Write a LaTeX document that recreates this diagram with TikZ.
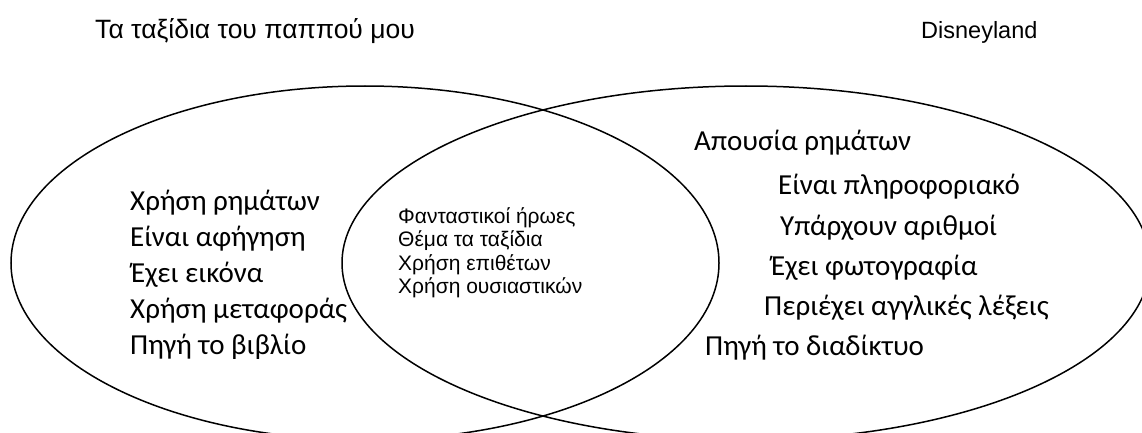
\documentclass[tikz,border=0pt]{standalone}
\usepackage{fontspec}
\setmainfont{Liberation Sans}
\newfontfamily\calfont{Carlito}
\newfontfamily\arifont{Liberation Sans}
\begin{document}
\begin{tikzpicture}[x=1pt,y=-1pt,
  venn/.style={draw=black,line width=1.5pt},
  titletext/.style={anchor=base west,inner sep=0pt,font=\arifont\fontsize{24}{28}\selectfont},
  sidetext/.style={anchor=base west,inner sep=0pt,font=\calfont\fontsize{29}{34}\selectfont},
  midtext/.style={anchor=base west,inner sep=0pt,font=\arifont\fontsize{21}{23}\selectfont}]
\useasboundingbox (0,0) rectangle (1142,433);
\fill[white] (0,0) rectangle (1142,433);
\begin{scope}
\clip (0,0) rectangle (1142,433);
\draw[venn] (365,263) ellipse [x radius=354, y radius=177];
\draw[venn] (746,263) ellipse [x radius=404, y radius=177];
\end{scope}
\node[titletext,font=\arifont\fontsize{26.5}{30}\selectfont] (t1) at (95,39) {Τα ταξίδια του παππού μου};
\node[titletext,font=\arifont\fontsize{23.5}{28}\selectfont] (t2) at (921,39) {Disneyland};
\node[sidetext] (l1) at (130,210) {Χρήση ρημάτων};
\node[sidetext] (l2) at (130,246) {Είναι αφήγηση};
\node[sidetext] (l3) at (131,282) {Έχει εικόνα};
\node[sidetext] (l4) at (130,318) {Χρήση μεταφοράς};
\node[sidetext] (l5) at (130,354) {Πηγή το βιβλίο};
\node[midtext] (m1) at (398,223) {Φανταστικοί ήρωες};
\node[midtext] (m2) at (398,246.5) {Θέμα τα ταξίδια};
\node[midtext] (m3) at (398,270) {Χρήση επιθέτων};
\node[midtext] (m4) at (398,293) {Χρήση ουσιαστικών};
\node[sidetext] (r1) at (694,150) {Απουσία ρημάτων};
\node[sidetext] (r2) at (778,194) {Είναι πληροφοριακό};
\node[sidetext] (r3) at (780,235) {Υπάρχουν αριθμοί};
\node[sidetext] (r4) at (771,275) {Έχει φωτογραφία};
\node[sidetext] (r5) at (764,315) {Περιέχει αγγλικές λέξεις};
\node[sidetext] (r6) at (705,355) {Πηγή το διαδίκτυο};
\end{tikzpicture}
\end{document}
